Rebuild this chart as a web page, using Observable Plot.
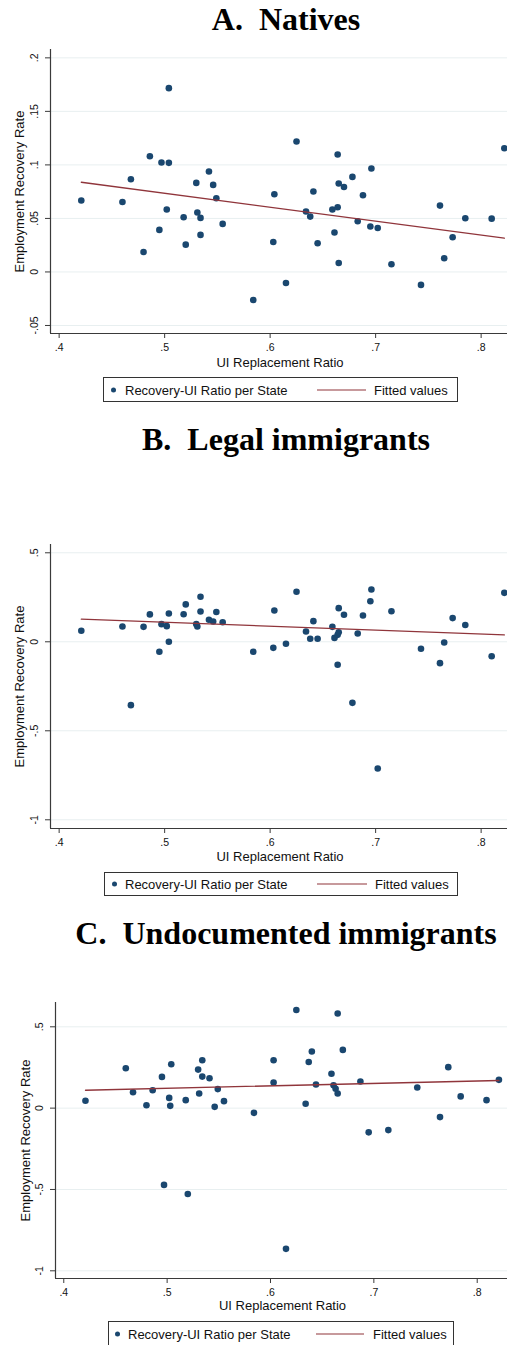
<!DOCTYPE html>
<html>
<head>
<meta charset="utf-8">
<script src="https://cdn.jsdelivr.net/npm/d3@7"></script>
<script src="https://cdn.jsdelivr.net/npm/@observablehq/plot@0.6"></script>
<style>
  html, body { margin: 0; padding: 0; background: #fff; }
  #page { position: relative; width: 507px; height: 1345px; overflow: hidden; background: #fff; }
  .title {
    position: absolute; left: 0; width: 572px; text-align: center;
    font-family: "Liberation Serif", "Times New Roman", serif; font-weight: bold;
    font-size: 32px; line-height: 32px; white-space: pre; color: #000;
  }
  .panel { position: absolute; left: 0; }
  .legend {
    position: absolute; box-sizing: border-box; border: 1px solid #333; background: #fff;
    font-family: "Liberation Sans", Arial, sans-serif; font-size: 13px; color: #111;
  }
  .legend span { position: absolute; top: 50%; transform: translateY(-50%); white-space: nowrap; }
  .legend .dot { width: 5px; height: 5px; border-radius: 50%; background: #1a476f; }
  .legend .swatch { height: 0; border-top: 1.3px solid #90353b; }
</style>
</head>
<body>
<div id="page"></div>
<script>
// State-level UI replacement ratios (shared by the natives and legal immigrants panels)
const uiRatio = [
  0.421, 0.460, 0.468, 0.480, 0.486, 0.495, 0.497, 0.502, 0.504, 0.504,
  0.518, 0.520, 0.530, 0.531, 0.534, 0.534, 0.542, 0.546, 0.549, 0.555,
  0.584, 0.603, 0.604, 0.615, 0.625, 0.634, 0.638, 0.641, 0.645, 0.659,
  0.661, 0.664, 0.664, 0.665, 0.665, 0.670, 0.678, 0.683, 0.688, 0.695,
  0.696, 0.702, 0.715, 0.743, 0.761, 0.765, 0.773, 0.785, 0.810, 0.822
];

// Employment recovery rate, natives
const nativesRate = [
  0.0667, 0.0654, 0.0866, 0.0187, 0.1081, 0.0393, 0.1022, 0.0583, 0.1019, 0.1717,
  0.0511, 0.0255, 0.0832, 0.0555, 0.0505, 0.0346, 0.0938, 0.0813, 0.0688, 0.0449,
  -0.0262, 0.0280, 0.0726, -0.0103, 0.1218, 0.0564, 0.0517, 0.0751, 0.0268, 0.0583,
  0.0368, 0.0604, 0.1097, 0.0826, 0.0084, 0.0794, 0.0888, 0.0474, 0.0717, 0.0424,
  0.0966, 0.0411, 0.0072, -0.0121, 0.0620, 0.0128, 0.0324, 0.0502, 0.0498, 0.1156
];

// Employment recovery rate, legal immigrants
const legalRate = [
  0.062, 0.086, -0.356, 0.084, 0.154, -0.056, 0.099, 0.088, 0.000, 0.159,
  0.155, 0.210, 0.099, 0.086, 0.170, 0.253, 0.124, 0.114, 0.167, 0.110,
  -0.056, -0.034, 0.176, -0.011, 0.281, 0.058, 0.017, 0.116, 0.017, 0.084,
  0.022, -0.129, 0.039, 0.189, 0.054, 0.152, -0.343, 0.047, 0.148, 0.228,
  0.294, -0.712, 0.172, -0.039, -0.120, -0.004, 0.133, 0.094, -0.081, 0.275
];

// Undocumented immigrants: states with available estimates
const undocRatio = [
  0.421, 0.460, 0.467, 0.480, 0.486, 0.495, 0.497, 0.502, 0.503, 0.504,
  0.518, 0.520, 0.530, 0.531, 0.534, 0.534, 0.541, 0.546, 0.549, 0.555,
  0.584, 0.603, 0.603, 0.615, 0.625, 0.634, 0.637, 0.640, 0.644, 0.659,
  0.661, 0.663, 0.665, 0.665, 0.670, 0.687, 0.695, 0.714, 0.742, 0.764,
  0.772, 0.784, 0.809, 0.821
];
const undocRate = [
  0.045, 0.245, 0.098, 0.018, 0.110, 0.192, -0.472, 0.063, 0.014, 0.270,
  0.049, -0.528, 0.237, 0.090, 0.194, 0.294, 0.184, 0.008, 0.117, 0.043,
  -0.029, 0.157, 0.294, -0.865, 0.603, 0.027, 0.284, 0.348, 0.145, 0.211,
  0.141, 0.119, 0.090, 0.582, 0.358, 0.164, -0.149, -0.135, 0.127, -0.055,
  0.252, 0.072, 0.049, 0.174
];

// Fitted values at the ends of each panel's ratio range
const nativesFitX = [0.421, 0.822];
const nativesFit = [0.0838, 0.0315];
const legalFitX = [0.421, 0.822];
const legalFit = [0.127, 0.039];
const undocFitX = [0.421, 0.821];
const undocFit = [0.110, 0.170];

// Axis ticks
const xTicks = [0.4, 0.5, 0.6, 0.7, 0.8];
const nativesTicks = [-0.05, 0, 0.05, 0.1, 0.15, 0.2];
const immigrantTicks = [-1, -0.5, 0, 0.5];

const titles = ["A.  Natives", "B.  Legal immigrants", "C.  Undocumented immigrants"];
const xTitle = "UI Replacement Ratio";
const yTitle = "Employment Recovery Rate";
const legendLabels = ["Recovery-UI Ratio per State", "Fitted values"];

const NAVY = "#1a476f";
const MAROON = "#90353b";
const GRID = "#e8eff0";
const AXIS = "#3a3a3a";

// Stata-style labels: ".2", "-.05", "0"
const fmt = d => d === 0 ? "0" : String(+d.toFixed(4)).replace(/^(-?)0\./, "$1.");

const page = document.getElementById("page");

function addTitle(text, top) {
  const el = document.createElement("div");
  el.className = "title";
  el.style.top = top + "px";
  el.textContent = text;
  page.appendChild(el);
}

function addPanel({xs, ys, fitX, fitY, top, height, left, frameH, xDomain, yDomain, yTicks, yTitleDx, xTitleDy}) {
  const data = xs.map((x, i) => ({x, y: ys[i]}));
  const fit = fitX.map((x, i) => ({x, y: fitY[i]}));
  const marginTop = 9;
  const svg = Plot.plot({
    width: 507,
    height,
    marginLeft: left,
    marginRight: 0,
    marginTop,
    marginBottom: height - marginTop - frameH,
    x: {domain: xDomain},
    y: {domain: yDomain},
    style: {
      fontFamily: '"Liberation Sans", Arial, sans-serif',
      fontSize: "10.5px",
      color: "#111",
      background: "transparent",
      overflow: "visible"
    },
    marks: [
      Plot.gridY({ticks: yTicks, stroke: GRID, strokeOpacity: 1, strokeWidth: 1}),
      Plot.axisY({ticks: yTicks, tickSize: 5, tickPadding: 7.5, tickRotate: -90, tickFormat: fmt, label: null, stroke: AXIS}),
      Plot.axisX({ticks: xTicks, tickSize: 5, tickPadding: 5, tickFormat: fmt, label: null, stroke: AXIS}),
      Plot.ruleX([xDomain[0]], {stroke: AXIS, strokeWidth: 1.2}),
      Plot.ruleY([yDomain[0]], {stroke: AXIS, strokeWidth: 1.2}),
      Plot.dot(data, {x: "x", y: "y", r: 3.3, fill: NAVY, stroke: "none"}),
      Plot.line(fit, {x: "x", y: "y", stroke: MAROON, strokeWidth: 1.3}),
      Plot.text([xTitle], {frameAnchor: "bottom", dx: 1, dy: xTitleDy, textAnchor: "middle", lineAnchor: "middle", fontSize: 13, fill: "#111"}),
      Plot.text([yTitle], {frameAnchor: "left", dx: yTitleDx, rotate: -90, textAnchor: "middle", lineAnchor: "middle", fontSize: 13, fill: "#111"})
    ]
  });
  svg.classList.add("panel");
  svg.style.top = top + "px";
  page.appendChild(svg);
}

function addLegend({left, top, width, height, dotX, textX, lineX1, lineX2, fitX}) {
  const box = document.createElement("div");
  box.className = "legend";
  Object.assign(box.style, {left: left + "px", top: top + "px", width: width + "px", height: height + "px"});
  const dot = document.createElement("span");
  dot.className = "dot";
  dot.style.left = (dotX - 2.5) + "px";
  const t1 = document.createElement("span");
  t1.style.left = textX + "px";
  t1.textContent = legendLabels[0];
  const sw = document.createElement("span");
  sw.className = "swatch";
  sw.style.left = lineX1 + "px";
  sw.style.width = (lineX2 - lineX1) + "px";
  const t2 = document.createElement("span");
  t2.style.left = fitX + "px";
  t2.textContent = legendLabels[1];
  box.append(dot, t1, sw, t2);
  page.appendChild(box);
}

// Panel A: natives
addTitle(titles[0], 3);
addPanel({
  xs: uiRatio, ys: nativesRate, fitX: nativesFitX, fitY: nativesFit,
  top: 40, height: 325, left: 50, frameH: 284,
  xDomain: [0.3918, 0.825], yDomain: [-0.0575, 0.2078], yTicks: nativesTicks,
  yTitleDx: -31, xTitleDy: 29
});
addLegend({left: 103, top: 377, width: 355, height: 25, dotX: 9.5, textX: 21, lineX1: 213, lineX2: 262, fitX: 270});

// Panel B: legal immigrants
addTitle(titles[1], 423);
addPanel({
  xs: uiRatio, ys: legalRate, fitX: legalFitX, fitY: legalFit,
  top: 535, height: 325, left: 50, frameH: 284,
  xDomain: [0.3918, 0.825], yDomain: [-1.0489, 0.5466], yTicks: immigrantTicks,
  yTitleDx: -31, xTitleDy: 28
});
addLegend({left: 104, top: 872, width: 354, height: 24, dotX: 9, textX: 20, lineX1: 212, lineX2: 262, fitX: 270});

// Panel C: undocumented immigrants
addTitle(titles[2], 917);
addPanel({
  xs: undocRatio, ys: undocRate, fitX: undocFitX, fitY: undocFit,
  top: 993, height: 318, left: 55, frameH: 276,
  xDomain: [0.392, 0.8293], yDomain: [-1.0473, 0.6494], yTicks: immigrantTicks,
  yTitleDx: -30, xTitleDy: 27.5
});
addLegend({left: 108, top: 1321, width: 346, height: 25, dotX: 8.5, textX: 19, lineX1: 207, lineX2: 255, fitX: 264});
</script>
</body>
</html>
